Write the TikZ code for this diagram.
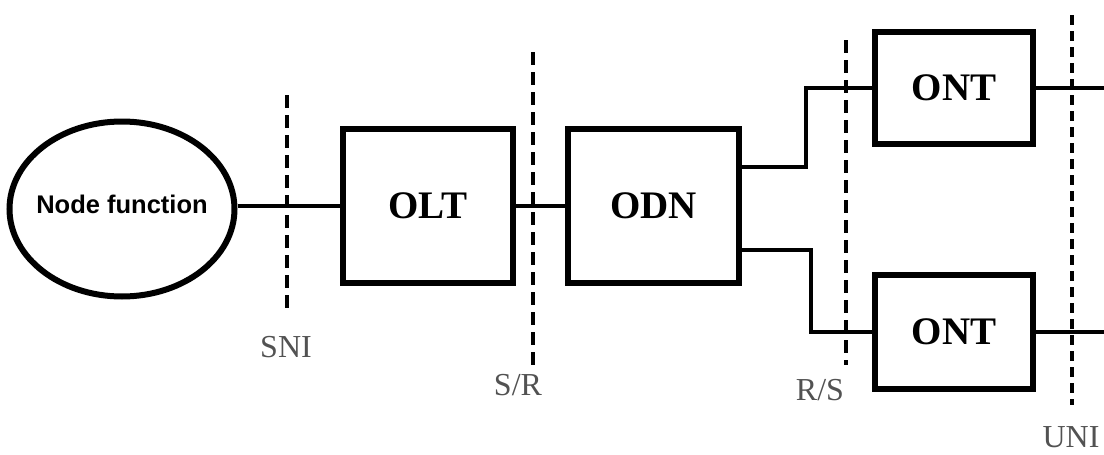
\documentclass[tikz,border=0pt]{standalone}
\usepackage{fontspec}
\setmainfont{Liberation Serif}
\newfontfamily\nodefont{Liberation Sans}
\usetikzlibrary{shapes.geometric}
\colorlet{ifacegray}{black!68}
\tikzset{
  unit/.style = {draw, line width=6pt, inner sep=0pt,
    font=\fontsize{39}{39}\selectfont\bfseries},
  link/.style = {line width=3.5pt},
  iface/.style = {line width=4.5pt, dash pattern=on 13pt off 7pt},
  ifacelabel/.style = {color=ifacegray, inner sep=0pt,
    font=\fontsize{32}{32}\selectfont}
}

\begin{document}
\begin{tikzpicture}[x=1pt,y=-1pt]
  \useasboundingbox (0,0) rectangle (1104,455);
  \pgfmathsetmacro{\midY}{206};
  \pgfmathsetmacro{\ontW}{158};
  %
  \coordinate (edge) at (1104,0);
  % network elements
  \node[ellipse, draw, line width=6pt, inner sep=0pt,
    minimum width=225, minimum height=175,
    font=\nodefont\fontsize{25.5}{25.5}\selectfont\bfseries]
    (nf) at (122,209) {\raisebox{10pt}{\makebox[0pt]{Node function}}};
  \node[unit, minimum width=170, minimum height=154] (olt) at (428,\midY) {OLT};
  \node[unit, minimum width=171, minimum height=154] (odn) at (653.5,\midY) {ODN};
  \node[unit, minimum width=\ontW, minimum height=112] (ontA) at (954,88) {ONT};
  \node[unit, minimum width=\ontW, minimum height=114] (ontB) at (954,332) {ONT};
  % links
  \draw[link] (nf.east |- olt.west) -- (olt.west);
  \draw[link] (olt.east) -- (odn.west);
  \draw[link] (odn.east |- 0,167) -- ++(64,0) |- (ontA.west);
  \draw[link] (odn.east |- 0,250) -- ++(69,0) |- (ontB.west);
  \draw[link] (ontA.east) -- (ontA.east -| edge);
  \draw[link] (ontB.east) -- (ontB.east -| edge);
  % reference points
  \coordinate (sniT) at (287,95);  \coordinate (sniB) at (287,312);
  \coordinate (srT) at (533,52);   \coordinate (srB) at (533,370);
  \coordinate (rsT) at (846,40);   \coordinate (rsB) at (846,365);
  \coordinate (uniT) at (1072,15); \coordinate (uniB) at (1072,405);
  \draw[iface] (sniT) -- (sniB);
  \draw[iface] (srT) -- (srB);
  \draw[iface] (rsT) -- (rsB);
  \draw[iface, line width=3.5pt, dash pattern=on 10pt off 6pt] (uniT) -- (uniB);
  \node[ifacelabel] (sni) at (286,347) {SNI};
  \node[ifacelabel] (sr) at (518,385) {S/R};
  \node[ifacelabel] (rs) at (820,390) {R/S};
  \node[ifacelabel] (uni) at (1071,437) {UNI};
\end{tikzpicture}
\end{document}
